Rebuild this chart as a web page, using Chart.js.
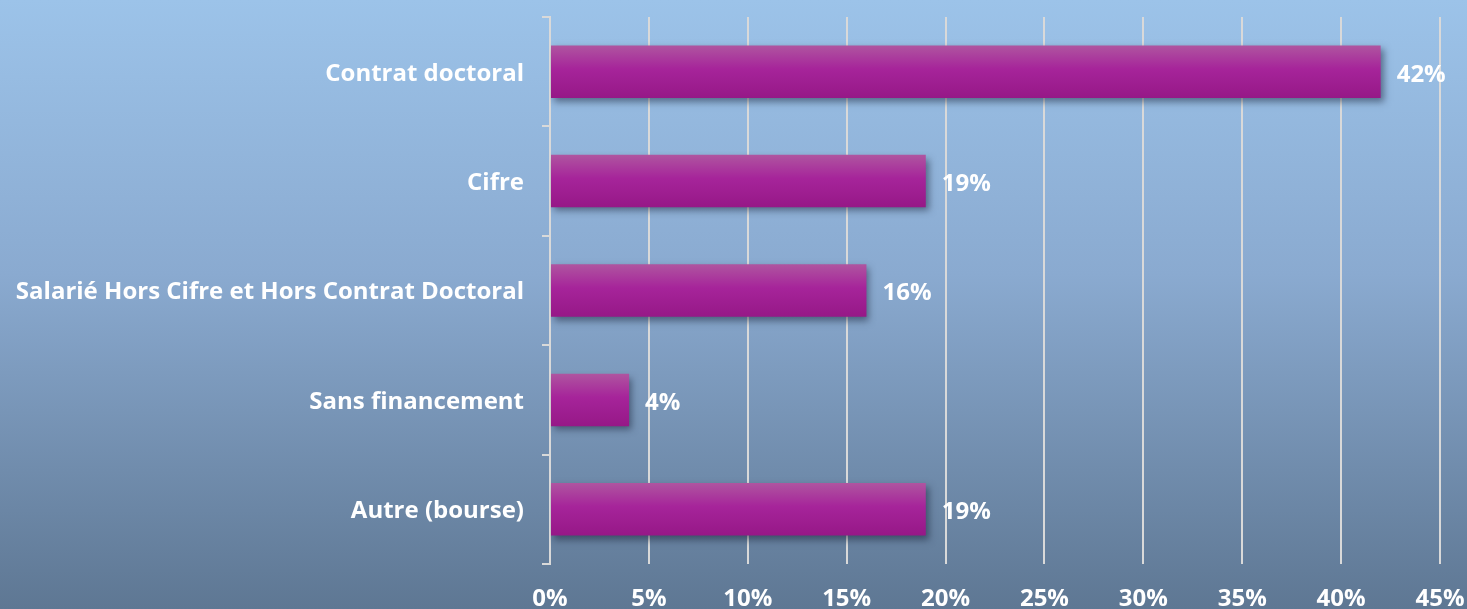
<!DOCTYPE html>
<html>
<head>
<meta charset="utf-8">
<script src="https://cdn.jsdelivr.net/npm/chart.js@4"></script>
<style>
  html, body { margin: 0; padding: 0; }
  body {
    width: 1467px; height: 609px; overflow: hidden;
    background: linear-gradient(to bottom, #9cc3e9 0%, #8aaad0 45%, #5e7793 100%);
  }
  #wrap { position: relative; width: 1467px; height: 609px; }
</style>
</head>
<body>
<div id="wrap"><canvas id="chart-financement"></canvas></div>
<script>
var categories = ["Contrat doctoral", "Cifre", "Salarié Hors Cifre et Hors Contrat Doctoral", "Sans financement", "Autre (bourse)"];
var values = [42, 19, 16, 4, 19];
var xTicks = [0, 5, 10, 15, 20, 25, 30, 35, 40, 45];

var labelFont = { family: "'Open Sans', 'Liberation Sans', Arial, sans-serif", size: 24, weight: 'bold' };
var lineColor = '#d9d9d9';

function barGradient(context) {
    var chart = context.chart;
    var yScale = chart.scales.y;
    if (!chart.chartArea || !yScale) return '#a4209a';
    var band = chart.chartArea.height / categories.length;
    var h = band * 0.48;
    var cy = yScale.getPixelForValue(context.dataIndex);
    var g = chart.ctx.createLinearGradient(0, cy - h / 2, 0, cy + h / 2);
    g.addColorStop(0, '#af55a0');
    g.addColorStop(0.45, '#a6249a');
    g.addColorStop(1, '#961887');
    return g;
}

// soft shadow under the bars
var barShadow = {
    id: 'barShadow',
    beforeDatasetsDraw: function (chart) {
        var ctx = chart.ctx;
        ctx.save();
        ctx.shadowColor = 'rgba(20, 30, 50, 0.5)';
        ctx.shadowBlur = 7;
        ctx.shadowOffsetX = 3;
        ctx.shadowOffsetY = 4;
    },
    afterDatasetsDraw: function (chart) {
        chart.ctx.restore();
    }
};

// percentage labels at the end of each bar
var valueLabels = {
    id: 'valueLabels',
    afterDatasetsDraw: function (chart) {
        var ctx = chart.ctx;
        var meta = chart.getDatasetMeta(0);
        ctx.save();
        ctx.font = 'bold ' + labelFont.size + 'px ' + labelFont.family;
        ctx.fillStyle = '#ffffff';
        ctx.textAlign = 'left';
        ctx.textBaseline = 'middle';
        meta.data.forEach(function (bar, i) {
            ctx.fillText(values[i] + '%', bar.x + 16, bar.y + 3);
        });
        ctx.restore();
    }
};

var ctx = document.getElementById('chart-financement').getContext('2d');
var chart = new Chart(ctx, {
    type: 'bar',
    data: {
        labels: categories,
        datasets: [{
            data: values,
            backgroundColor: barGradient,
            borderWidth: 0,
            barPercentage: 0.48,
            categoryPercentage: 1
        }]
    },
    options: {
        indexAxis: 'y',
        responsive: true,
        maintainAspectRatio: false,
        animation: false,
        layout: { padding: { top: 17, right: 27, left: 0, bottom: 0 } },
        plugins: {
            legend: { display: false },
            tooltip: { enabled: false }
        },
        scales: {
            x: {
                min: 0,
                max: 45,
                afterBuildTicks: function (scale) {
                    scale.ticks = xTicks.map(function (v) { return { value: v }; });
                },
                afterFit: function (scale) {
                    scale.height = 45;
                    scale.paddingLeft = 0;
                    scale.paddingRight = 0;
                },
                grid: { color: lineColor, lineWidth: 2, drawTicks: false },
                border: { display: false },
                ticks: {
                    color: '#ffffff',
                    font: labelFont,
                    padding: 21,
                    callback: function (v) { return v + '%'; }
                }
            },
            y: {
                afterFit: function (scale) {
                    scale.width = 550;
                    scale.paddingTop = 0;
                    scale.paddingBottom = 0;
                },
                grid: { drawOnChartArea: false, color: lineColor, lineWidth: 2, tickLength: 8, offset: true },
                border: { display: true, color: lineColor, width: 2 },
                ticks: {
                    color: '#ffffff',
                    font: labelFont,
                    padding: 18,
                    labelOffset: 2
                }
            }
        }
    },
    plugins: [barShadow, valueLabels]
});
</script>
</body>
</html>
